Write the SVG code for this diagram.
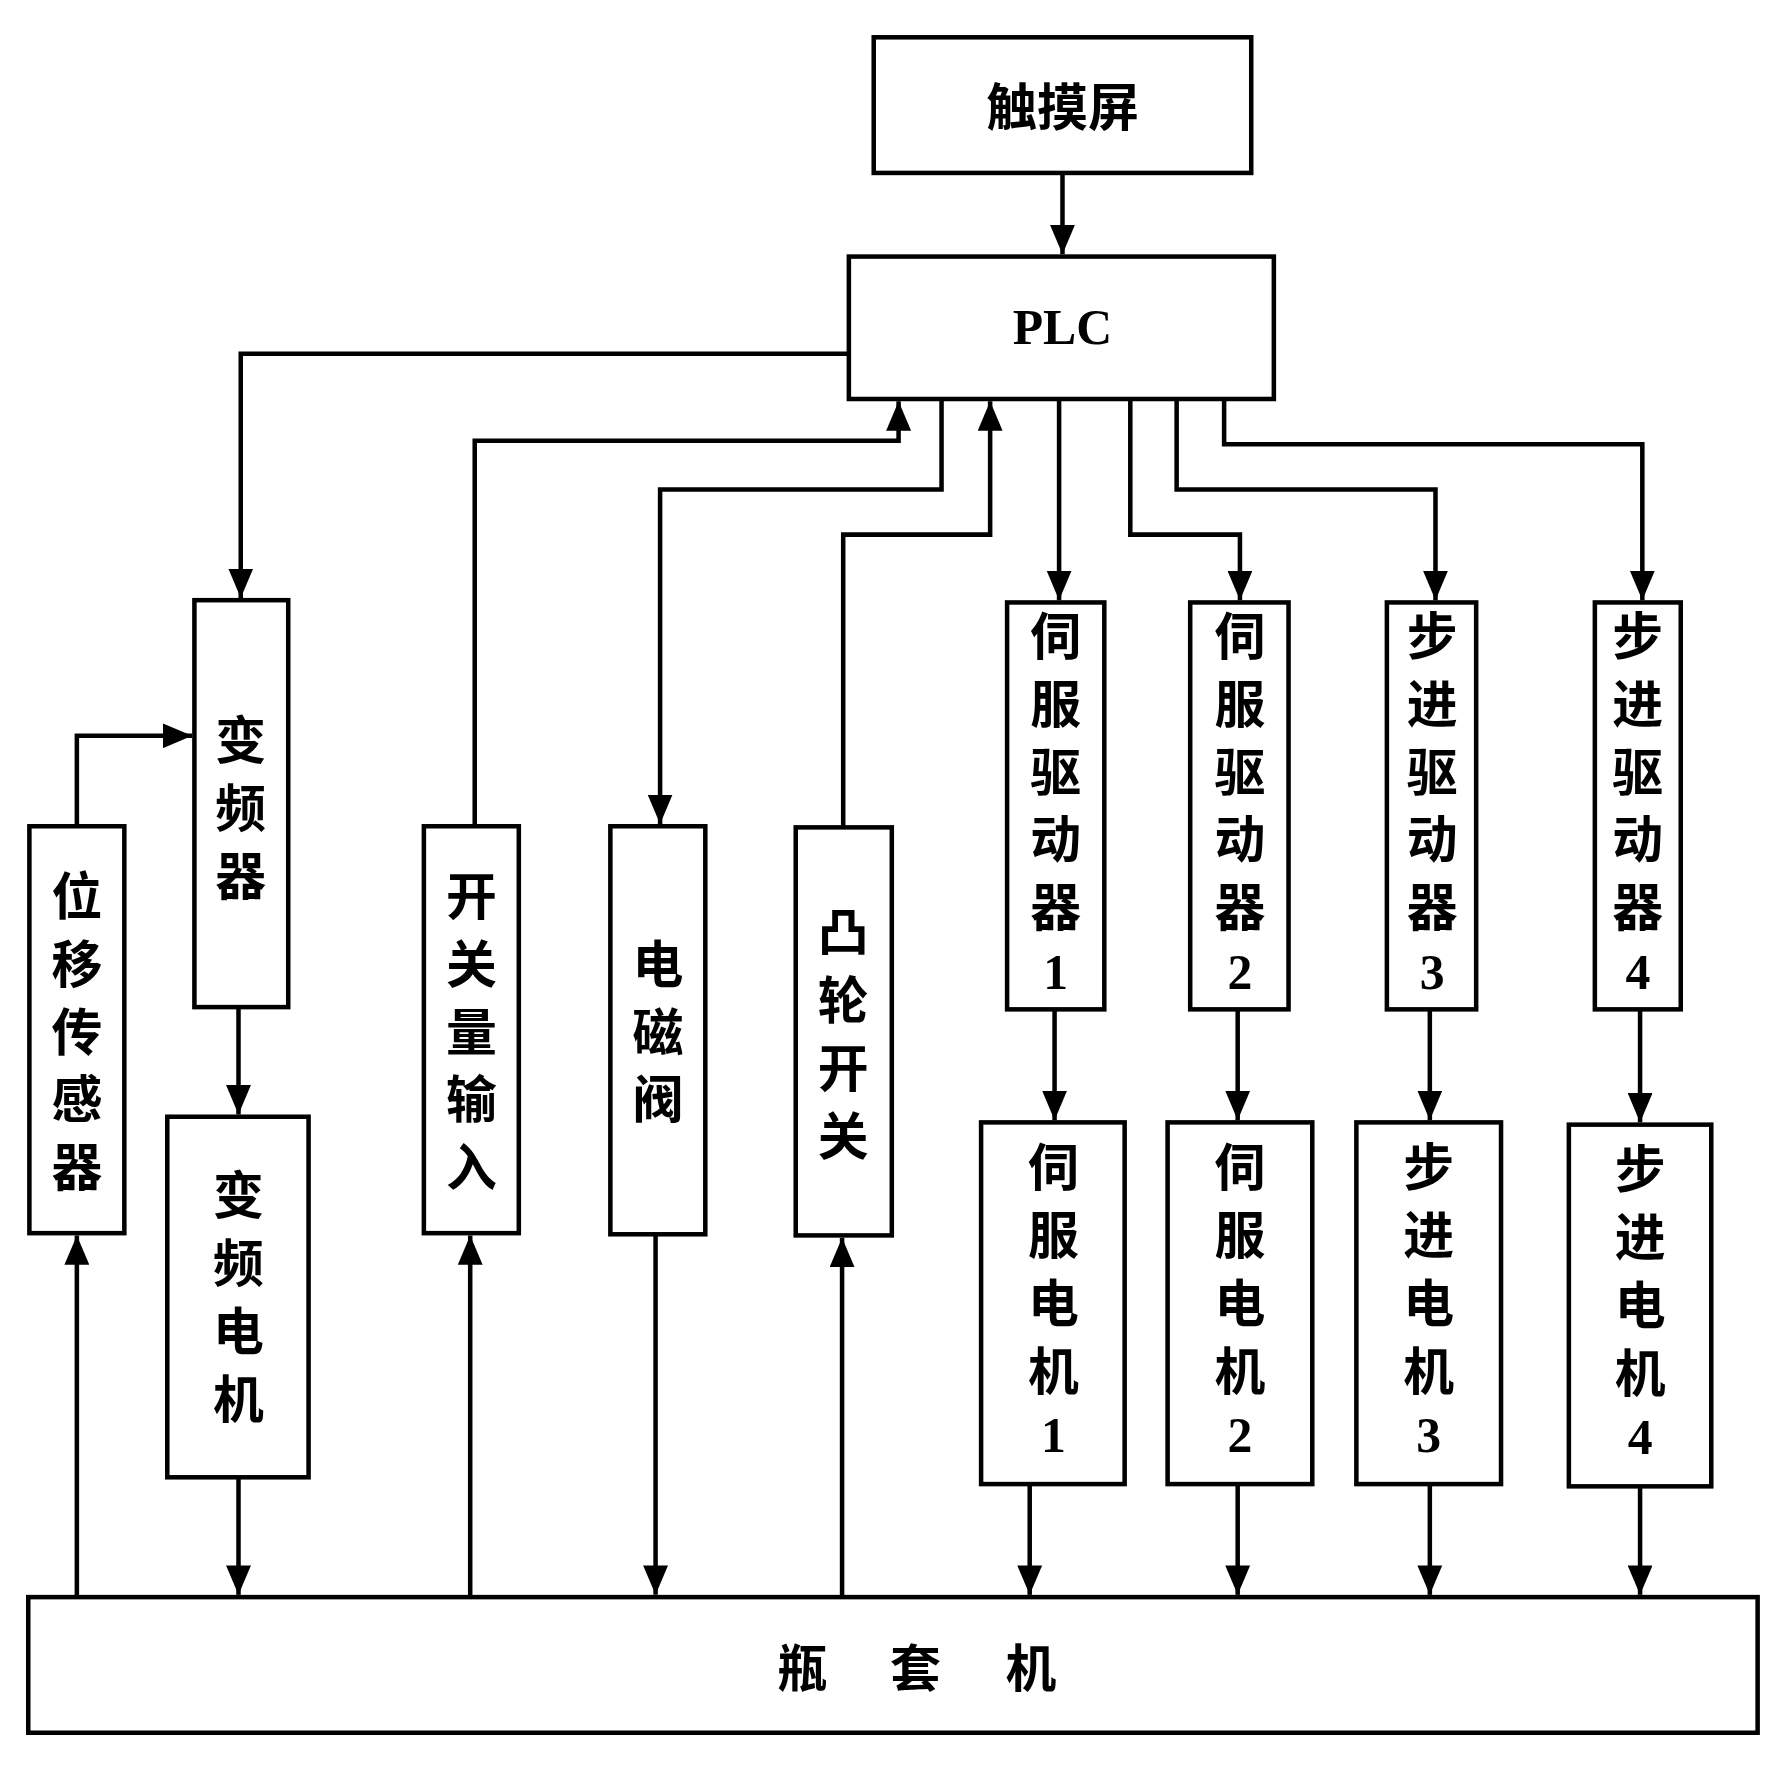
<svg xmlns="http://www.w3.org/2000/svg" width="1772" height="1773" viewBox="0 0 1772 1773">
<style>
rect{fill:#fff;stroke:#000;stroke-width:4}
.c path{fill:none;stroke:#000;stroke-width:4}
text{font-family:"Noto Sans CJK SC","Liberation Serif",serif;font-weight:bold;font-size:45px;text-anchor:middle;dominant-baseline:central;fill:#000}
.d{font-family:"Liberation Serif",serif;font-size:44px}
</style>
<defs><marker id="a" markerUnits="userSpaceOnUse" markerWidth="28" markerHeight="22" refX="26" refY="11" orient="auto"><path d="M0,0 L26,11 L0,22 Z" fill="#000"/></marker></defs>
<rect x="0" y="0" width="1772" height="1773" style="stroke:none"/>
<g transform="scale(1.1303)">
<g id="touch"><rect x="773" y="33" width="334" height="120"/><text x="940" y="92">触摸屏</text></g>
<g id="plc"><rect x="751" y="227" width="376" height="126"/><text class="d" x="940" y="290">PLC</text></g>
<g id="bottom"><rect x="25" y="1413" width="1530" height="120"/><text x="710" y="1473">瓶</text><text x="810" y="1473">套</text><text x="912" y="1473">机</text></g>
<g id="disp"><rect x="26" y="731" width="84" height="360"/><text x="68" y="790">位</text><text x="68" y="850">移</text><text x="68" y="910">传</text><text x="68" y="970">感</text><text x="68" y="1030">器</text></g>
<g id="vfd"><rect x="172" y="531" width="83" height="360"/><text x="213" y="652">变</text><text x="213" y="712">频</text><text x="213" y="772">器</text></g>
<g id="vfm"><rect x="148" y="988" width="125" height="319"/><text x="211" y="1055">变</text><text x="211" y="1115">频</text><text x="211" y="1175">电</text><text x="211" y="1235">机</text></g>
<g id="sw"><rect x="375" y="731" width="84" height="360"/><text x="417" y="790">开</text><text x="417" y="850">关</text><text x="417" y="910">量</text><text x="417" y="970">输</text><text x="417" y="1030">入</text></g>
<g id="valve"><rect x="540" y="731" width="84" height="361"/><text x="582" y="850">电</text><text x="582" y="910">磁</text><text x="582" y="970">阀</text></g>
<g id="cam"><rect x="704" y="732" width="85" height="361"/><text x="746" y="822">凸</text><text x="746" y="882">轮</text><text x="746" y="942">开</text><text x="746" y="1002">关</text></g>
<g id="sd1"><rect x="891" y="533" width="86" height="360"/><text x="934" y="560">伺</text><text x="934" y="620">服</text><text x="934" y="680">驱</text><text x="934" y="740">动</text><text x="934" y="800">器</text><text class="d" x="934" y="860">1</text></g>
<g id="sd2"><rect x="1053" y="533" width="87" height="360"/><text x="1097" y="560">伺</text><text x="1097" y="620">服</text><text x="1097" y="680">驱</text><text x="1097" y="740">动</text><text x="1097" y="800">器</text><text class="d" x="1097" y="860">2</text></g>
<g id="st3"><rect x="1227" y="533" width="79" height="360"/><text x="1267" y="560">步</text><text x="1267" y="620">进</text><text x="1267" y="680">驱</text><text x="1267" y="740">动</text><text x="1267" y="800">器</text><text class="d" x="1267" y="860">3</text></g>
<g id="st4"><rect x="1411" y="533" width="76" height="360"/><text x="1449" y="560">步</text><text x="1449" y="620">进</text><text x="1449" y="680">驱</text><text x="1449" y="740">动</text><text x="1449" y="800">器</text><text class="d" x="1449" y="860">4</text></g>
<g id="sm1"><rect x="868" y="993" width="127" height="320"/><text x="932" y="1030">伺</text><text x="932" y="1090">服</text><text x="932" y="1150">电</text><text x="932" y="1210">机</text><text class="d" x="932" y="1270">1</text></g>
<g id="sm2"><rect x="1033" y="993" width="128" height="320"/><text x="1097" y="1030">伺</text><text x="1097" y="1090">服</text><text x="1097" y="1150">电</text><text x="1097" y="1210">机</text><text class="d" x="1097" y="1270">2</text></g>
<g id="stm3"><rect x="1200" y="993" width="128" height="320"/><text x="1264" y="1030">步</text><text x="1264" y="1090">进</text><text x="1264" y="1150">电</text><text x="1264" y="1210">机</text><text class="d" x="1264" y="1270">3</text></g>
<g id="stm4"><rect x="1388" y="995" width="126" height="320"/><text x="1451" y="1032">步</text><text x="1451" y="1092">进</text><text x="1451" y="1152">电</text><text x="1451" y="1212">机</text><text class="d" x="1451" y="1272">4</text></g>
<g class="c">
<path d="M940,153 V225" marker-end="url(#a)"/>
<path d="M751,313 H213 V529" marker-end="url(#a)"/>
<path d="M420,731 V390 H795 V355" marker-end="url(#a)"/>
<path d="M833,353 V433 H584 V729" marker-end="url(#a)"/>
<path d="M746,732 V473 H876 V355" marker-end="url(#a)"/>
<path d="M937,353 V531" marker-end="url(#a)"/>
<path d="M1000,353 V473 H1097 V531" marker-end="url(#a)"/>
<path d="M1041,353 V433 H1270 V531" marker-end="url(#a)"/>
<path d="M1083,353 V393 H1453 V531" marker-end="url(#a)"/>
<path d="M68,731 V651 H170" marker-end="url(#a)"/>
<path d="M211,891 V986" marker-end="url(#a)"/>
<path d="M211,1307 V1411" marker-end="url(#a)"/>
<path d="M68,1413 V1093" marker-end="url(#a)"/>
<path d="M416,1413 V1093" marker-end="url(#a)"/>
<path d="M580,1092 V1411" marker-end="url(#a)"/>
<path d="M745,1413 V1095" marker-end="url(#a)"/>
<path d="M933,893 V991" marker-end="url(#a)"/>
<path d="M1095,893 V991" marker-end="url(#a)"/>
<path d="M1265,893 V991" marker-end="url(#a)"/>
<path d="M1451,893 V993" marker-end="url(#a)"/>
<path d="M911,1313 V1411" marker-end="url(#a)"/>
<path d="M1095,1313 V1411" marker-end="url(#a)"/>
<path d="M1265,1313 V1411" marker-end="url(#a)"/>
<path d="M1451,1315 V1411" marker-end="url(#a)"/>
</g>
</g>
</svg>
